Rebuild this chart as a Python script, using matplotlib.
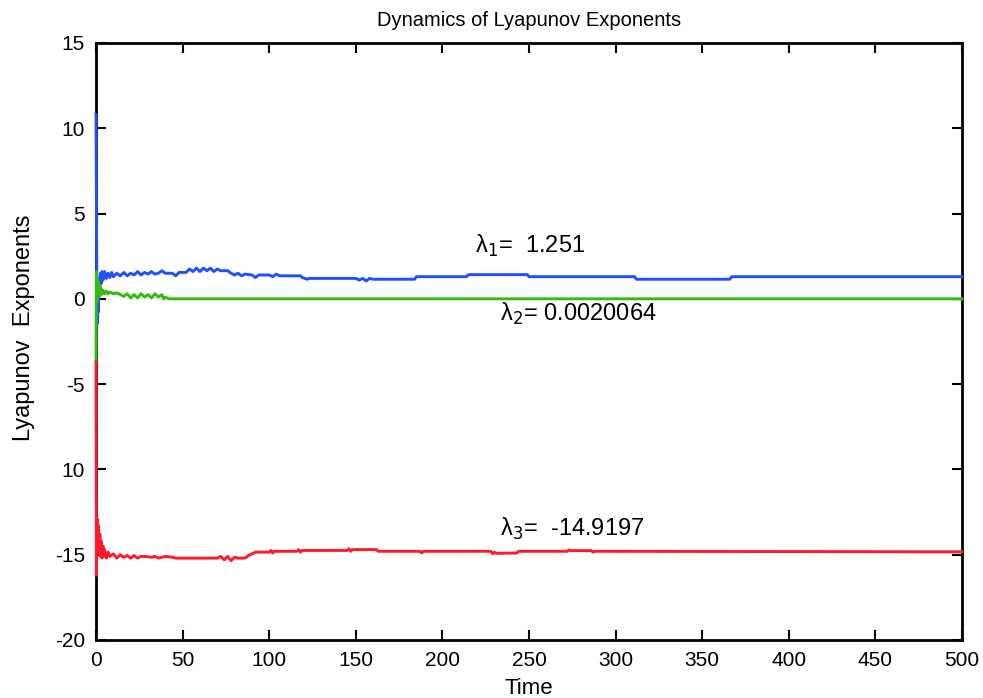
import matplotlib
matplotlib.use("Agg")
import matplotlib.pyplot as plt

plt.rcParams['font.family'] = ['Liberation Sans', 'DejaVu Sans']

# lambda_1 (blue)
t1 = [0, 0.3, 0.6, 0.9, 1.2, 1.5, 2, 2.5, 3, 3.5, 4, 5, 6, 7, 8, 9, 10, 12, 14, 16,
      18, 20, 22, 24, 26, 28, 30, 32, 34, 36, 38, 40, 44, 46, 48, 52, 54, 56, 58, 60,
      62, 64, 66, 68, 70, 72, 76, 78, 80, 82, 84, 86, 90, 92, 94, 100, 102, 104, 106,
      110, 118, 119, 122, 123, 150, 152, 154, 156, 158, 160, 184, 185, 214, 215, 249,
      250, 311, 312, 366, 367, 500]
l1 = [10.8, 4.0, -1.5, 0.5, -0.8, 1.2, 0.6, 1.5, 0.9, 1.6, 1.1, 1.6, 1.2, 1.5, 1.25,
      1.55, 1.3, 1.5, 1.35, 1.55, 1.35, 1.5, 1.4, 1.6, 1.4, 1.55, 1.45, 1.6, 1.45, 1.5,
      1.65, 1.5, 1.5, 1.35, 1.55, 1.55, 1.75, 1.6, 1.8, 1.6, 1.8, 1.65, 1.8, 1.6, 1.75,
      1.65, 1.65, 1.5, 1.4, 1.5, 1.35, 1.45, 1.4, 1.25, 1.4, 1.4, 1.3, 1.45, 1.35, 1.35,
      1.35, 1.25, 1.15, 1.2, 1.2, 1.1, 1.2, 1.05, 1.2, 1.15, 1.15, 1.3, 1.3, 1.42, 1.42,
      1.3, 1.3, 1.15, 1.15, 1.3, 1.3]

# lambda_2 (green)
t2 = [0, 0.2, 0.5, 0.8, 1.1, 1.4, 1.8, 2.2, 2.6, 3, 3.5, 4, 5, 6, 7, 8, 10, 12, 14,
      16, 18, 20, 22, 24, 26, 28, 30, 32, 34, 36, 38, 39, 40, 42, 500]
l2 = [-3.7, 1.6, -0.2, 1.2, 0.2, 1.0, 0.3, 0.8, 0.2, 0.6, 0.3, 0.5, 0.3, 0.45, 0.3,
      0.4, 0.3, 0.35, 0.25, 0.15, 0.3, 0.05, 0.25, 0.05, 0.3, 0.1, 0.25, 0.05, 0.3,
      0.1, 0.25, 0.0, 0.1, 0.002, 0.002]

# lambda_3 (red)
t3 = [0, 0.2, 0.6, 1.0, 1.4, 1.8, 2.2, 2.6, 3, 3.5, 4, 4.5, 5, 6, 7, 8, 10, 12, 14,
      16, 18, 20, 22, 24, 26, 28, 32, 34, 36, 40, 44, 46, 70, 72, 74, 76, 78, 80, 82,
      86, 88, 90, 92, 100, 101, 102, 103, 116, 117, 118, 119, 145, 146, 147, 148, 162,
      163, 187, 188, 189, 228, 229, 230, 231, 243, 244, 272, 273, 274, 286, 287, 288,
      500]
l3 = [-3.7, -16.2, -12.9, -14.6, -13.3, -14.9, -13.8, -15.1, -14.2, -15.2, -14.5,
      -15.1, -14.7, -15.2, -14.85, -15.1, -14.95, -15.2, -15.0, -15.15, -15.05, -15.2,
      -15.05, -15.2, -15.1, -15.1, -15.15, -15.1, -15.2, -15.1, -15.15, -15.2, -15.2,
      -15.1, -15.3, -15.1, -15.35, -15.15, -15.2, -15.2, -15.05, -14.95, -14.85,
      -14.85, -14.75, -14.9, -14.8, -14.8, -14.7, -14.85, -14.75, -14.75, -14.65,
      -14.8, -14.7, -14.7, -14.8, -14.8, -14.9, -14.8, -14.8, -14.95, -14.85, -14.92,
      -14.9, -14.8, -14.8, -14.72, -14.76, -14.76, -14.85, -14.8, -14.83]

xticks = [0, 50, 100, 150, 200, 250, 300, 350, 400, 450, 500]
yticks = [-20, -15, -10, -5, 0, 5, 10, 15]
ylabels = ["-20", "-15", "10", "-5", "0", "5", "10", "15"]

fig = plt.figure(figsize=(9.83, 6.98), dpi=100)
ax = fig.add_axes([0.0977, 0.0831, 0.8809, 0.8553])

ax.plot(t1, l1, color='#1f4fff', lw=2.1, zorder=3, clip_on=False)
ax.plot(t2, l2, color='#33bb11', lw=2.1, zorder=3, clip_on=False)
ax.plot(t3, l3, color='#ff1a2a', lw=2.1, zorder=3, clip_on=False)

ax.set_xlim(0, 500)
ax.set_ylim(-20, 15)
ax.set_xticks(xticks)
ax.set_yticks(yticks)
ax.set_yticklabels(ylabels)
ax.tick_params(direction='in', length=7, width=1.5, top=True, right=True,
               labelsize=15, pad=8)
for s in ax.spines.values():
    s.set_linewidth(2)

ax.text(219, 2.7, "λ$_1$=  1.251", fontsize=17)
ax.text(233, -1.3, "λ$_2$= 0.0020064", fontsize=17)
ax.text(233, -13.9, "λ$_3$=  -14.9197", fontsize=17)

ax.set_title("Dynamics of Lyapunov Exponents", fontsize=14.5, pad=12)
ax.set_xlabel("Time", fontsize=16, labelpad=6)
ax.set_ylabel("Lyapunov  Exponents", fontsize=17)
ax.yaxis.set_label_coords(-0.07, 0.523)

fig.savefig("out.png", dpi=100)
